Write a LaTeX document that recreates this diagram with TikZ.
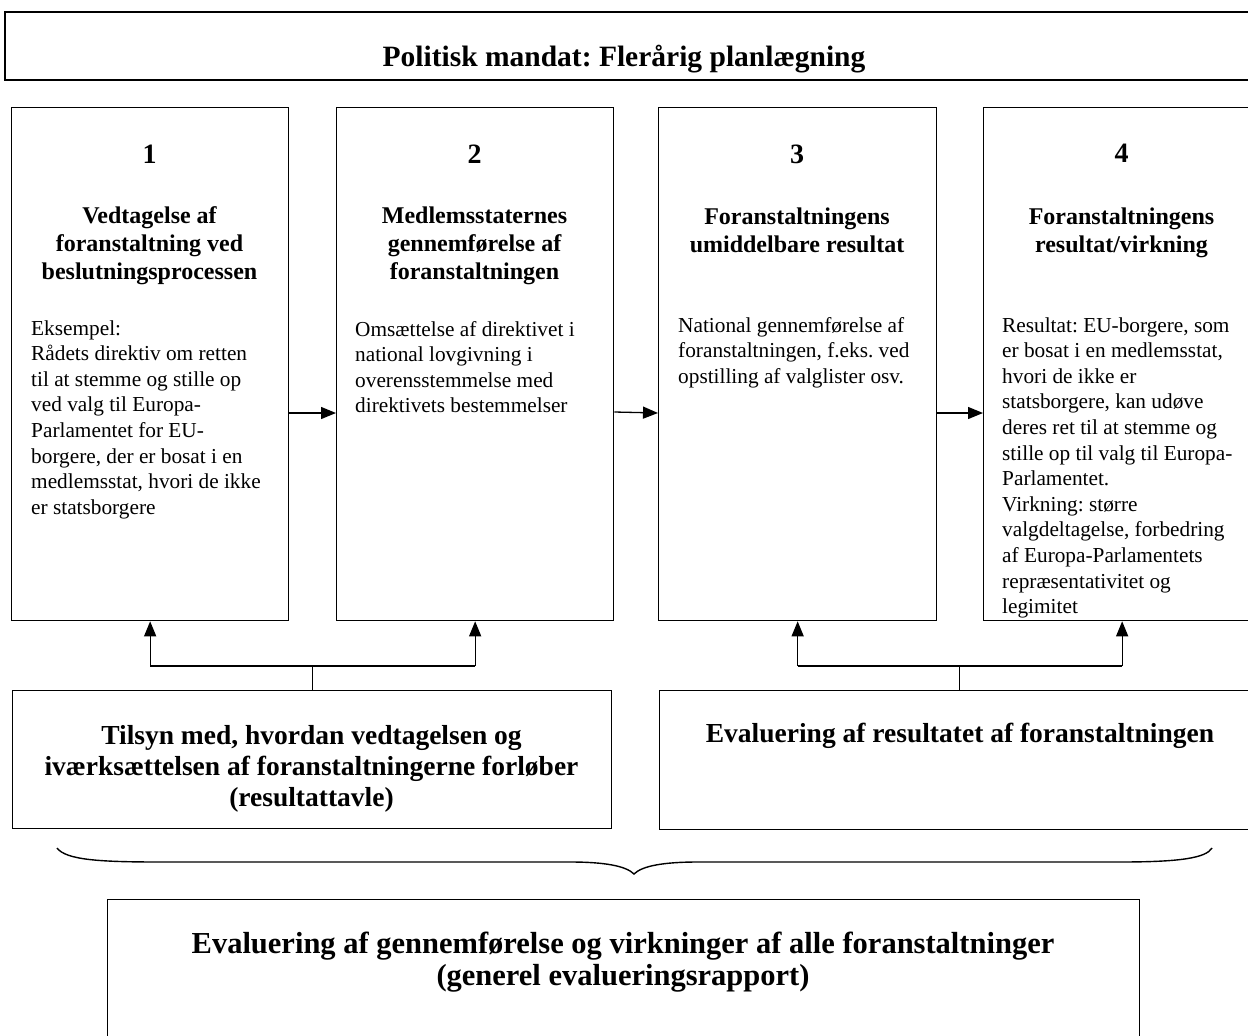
\documentclass[tikz,border=0pt]{standalone}
\usepackage{fontspec}
\setmainfont{Liberation Serif}
\frenchspacing
\usetikzlibrary{arrows.meta,calc}
\tikzset{
  box/.style={draw, line width=1.3pt, rectangle, inner sep=0pt, anchor=north west},
  numtxt/.style={font=\fontsize{28}{30}\selectfont\bfseries, anchor=base, inner sep=0pt},
  headtxt/.style={font=\fontsize{24}{28.3}\selectfont\bfseries, align=center, anchor=base, inner sep=0pt},
  bodytxt/.style={font=\fontsize{21.3}{25.6}\selectfont, align=left, anchor=base west, inner sep=0pt},
  lowtxt/.style={font=\fontsize{27.5}{31}\selectfont\bfseries, align=center, anchor=base, inner sep=0pt},
  bigtxt/.style={font=\fontsize{30.5}{32}\selectfont\bfseries, align=center, anchor=base, inner sep=0pt},
  arr/.style={line width=1.3pt, -{Triangle[length=15pt,width=12pt]}},
  link/.style={line width=1.6pt},
  stem/.style={line width=1pt}
}
\begin{document}
\begin{tikzpicture}[x=1pt,y=-1pt]
\clip (0,0) rectangle (1248,1036);
\fill[white] (0,0) rectangle (1248,1036);

% top box
\node[box, line width=2pt, minimum width=1264pt, minimum height=68pt] (top) at (4,11) {};
\node[bigtxt, font=\fontsize{29.5}{32}\selectfont\bfseries] (toptxt) at (624,66) {Politisk mandat: Flerårig planlægning};

% four step boxes
\node[box, minimum width=277pt, minimum height=513pt] (b1) at (11,107) {};
\node[box, minimum width=277pt, minimum height=513pt] (b2) at (336,107) {};
\node[box, minimum width=278pt, minimum height=513pt] (b3) at (658,107) {};
\node[box, minimum width=277pt, minimum height=513pt] (b4) at (983,107) {};

\node[numtxt] (n1) at (149.5,163) {1};
\node[numtxt] (n2) at (474.5,163) {2};
\node[numtxt] (n3) at (797,163) {3};
\node[numtxt] (n4) at (1121.5,162) {4};

% multi-line nodes: base anchor = last line's baseline
\node[headtxt] (h1) at (149.5,279.6) {Vedtagelse af\\foranstaltning ved\\beslutningsprocessen};
\node[headtxt] (h2) at (474.5,279.6) {Medlemsstaternes\\gennemførelse af\\foranstaltningen};
\node[headtxt] (h3) at (797,252.3) {Foranstaltningens\\umiddelbare resultat};
\node[headtxt] (h4) at (1121.5,252.3) {Foranstaltningens\\resultat/virkning};

\node[bodytxt] (t1) at (31,514.2) {Eksempel:\\Rådets direktiv om retten\\til at stemme og stille op\\ved valg til Europa-\\Parlamentet for EU-\\borgere, der er bosat i en\\medlemsstat, hvori de ikke\\er statsborgere};
\node[bodytxt] (t2) at (355,412.8) {Omsættelse af direktivet i\\national lovgivning i\\overensstemmelse med\\direktivets bestemmelser};
\node[bodytxt] (t3) at (678,383.2) {National gennemførelse af\\foranstaltningen, f.eks. ved\\opstilling af valglister osv.};
\node[bodytxt] (t4) at (1002,613.6) {Resultat: EU-borgere, som\\er bosat i en medlemsstat,\\hvori de ikke er\\statsborgere, kan udøve\\deres ret til at stemme og\\stille op til valg til Europa-\\Parlamentet.\\Virkning: større\\valgdeltagelse, forbedring\\af Europa-Parlamentets\\repræsentativitet og\\legimitet};

% arrows between the step boxes
\coordinate (ay) at (0,413);
\draw[arr] (b1.east |- ay) -- (b2.west |- ay);
\draw[arr] ($(b2.east |- ay)+(0,-1)$) -- (b3.west |- ay);
\draw[arr] (b3.east |- ay) -- (b4.west |- ay);

% lower boxes
\node[box, minimum width=599pt, minimum height=138pt] (l1) at (12,690) {};
\node[box, minimum width=600pt, minimum height=139pt] (l2) at (659,690) {};
\node[lowtxt] (lt1) at (311.5,806) {Tilsyn med, hvordan vedtagelsen og\\iværksættelsen af foranstaltningerne forløber\\(resultattavle)};
\node[lowtxt] (lt2) at (960,742) {Evaluering af resultatet af foranstaltningen};

% feedback connectors
\coordinate (hy) at (0,666);
\draw[stem] (l1.north) -- (l1.north |- hy);
\draw[link] (b1.south |- hy) -- (b2.south |- hy);
\draw[arr] (b1.south |- hy) -- (b1.south);
\draw[arr] (b2.south |- hy) -- (b2.south);
\draw[stem] (l2.north) -- (l2.north |- hy);
\draw[link] (b3.south |- hy) -- (b4.south |- hy);
\draw[arr] (b3.south |- hy) -- (b3.south);
\draw[arr] (b4.south |- hy) -- (b4.south);

% brace
\coordinate (brL) at (57,848);
\coordinate (brM) at (634,874);
\coordinate (brR) at (1212,848);
\draw[line width=1.4pt] (brL) .. controls (66,860) and (100,862) .. (160,862)
  -- (570,862) .. controls (605,862) and (626,866) .. (brM)
  .. controls (642,866) and (663,862) .. (698,862)
  -- (1120,862) .. controls (1180,862) and (1206,858) .. (brR);

% bottom box
\node[box, minimum width=1032pt, minimum height=200pt] (fin) at (107,899) {};
\node[bigtxt] (fintxt) at (623,985) {Evaluering af gennemførelse og virkninger af alle foranstaltninger\\(generel evalueringsrapport)};
\end{tikzpicture}
\end{document}
